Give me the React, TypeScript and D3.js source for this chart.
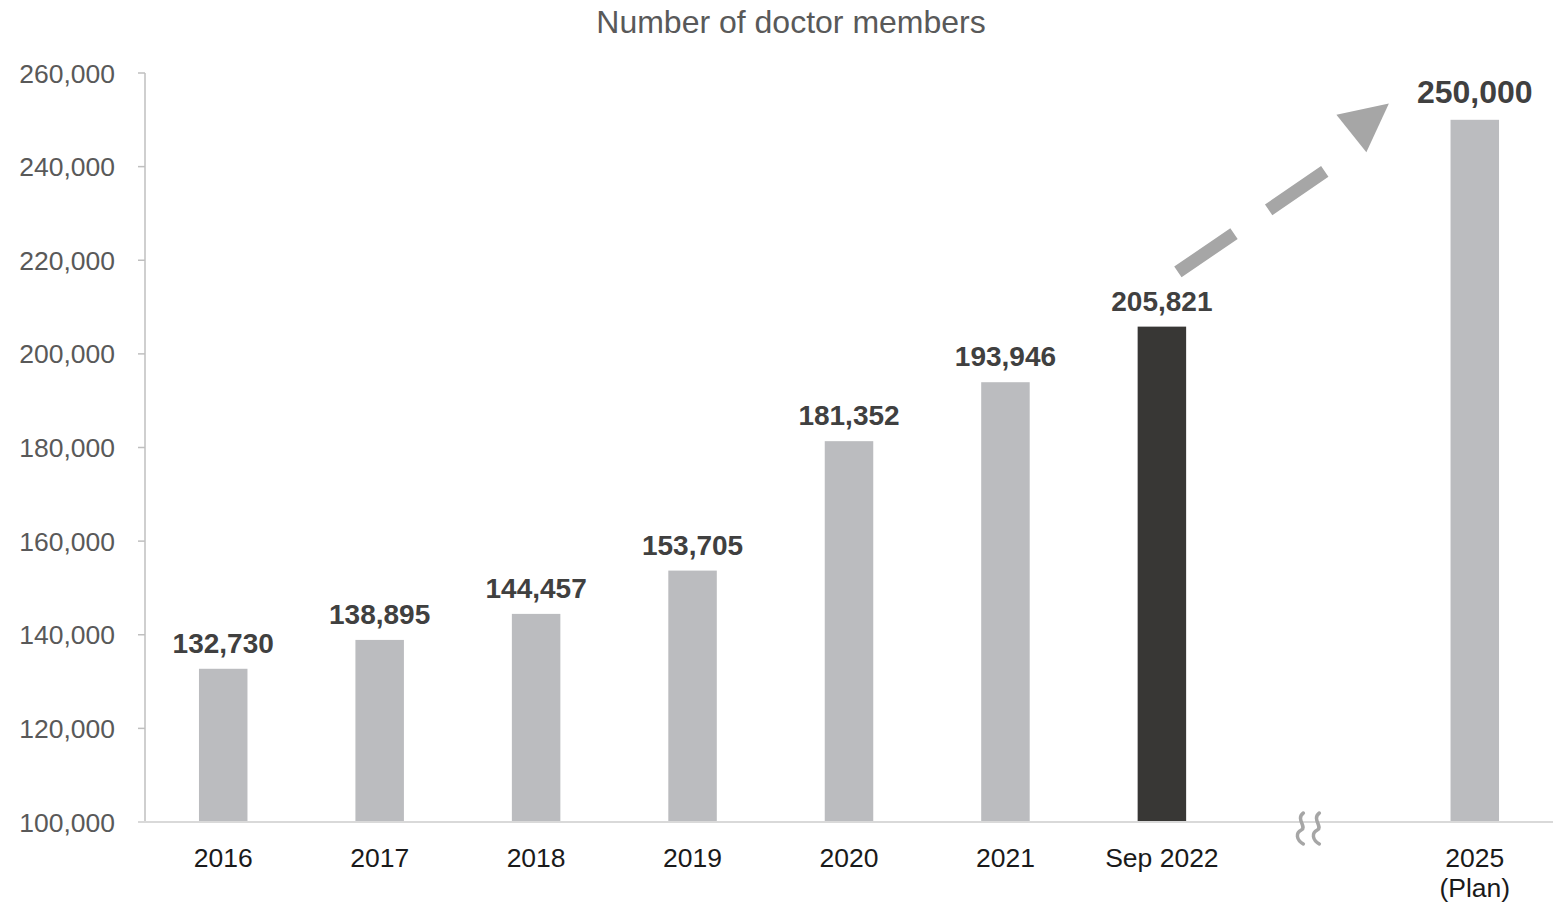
import React from "react";
import * as d3 from "d3";

const categories = ["2016", "2017", "2018", "2019", "2020", "2021", "Sep 2022", "", "2025"];
const values: (number | null)[] = [132730, 138895, 144457, 153705, 181352, 193946, 205821, null, 250000];
const highlight = ["Sep 2022"];
const yTicks = [100000, 120000, 140000, 160000, 180000, 200000, 220000, 240000, 260000];

const W = 1561;
const H = 907;
const M = { left: 145, right: 8, top: 73, bottom: 85 };

export default function App() {
  const x = d3
    .scaleBand<string>()
    .domain(categories.map((c, i) => c || `gap${i}`))
    .range([M.left, W - M.right])
    .paddingInner(0.69)
    .paddingOuter(0.345);
  const y = d3.scaleLinear().domain([100000, 260000]).range([H - M.bottom, M.top]);
  const fmt = d3.format(",");
  const key = (c: string, i: number) => c || `gap${i}`;
  const bw = x.bandwidth();
  const y0 = y(100000);

  const gapX = (x(key("", 7)) as number) + bw / 2;
  const squiggle = (cx: number) =>
    `M${cx + 2},${y0 - 9} C${cx - 6},${y0 - 3} ${cx + 6},${y0 + 5} ${cx},${y0 + 8} S${cx - 5},${y0 + 18} ${cx + 2},${y0 + 22}`;

  // arrow
  const sepX = (x("Sep 2022") as number) + bw / 2;
  const ax1 = sepX + 16, ay1 = y(217500);
  const ax2 = sepX + 163, ay2 = y(239000);
  const tip = { x: sepX + 227, y: y(253500) };
  const ang = Math.atan2(tip.y - ay1, tip.x - ax1);
  const baseC = { x: tip.x - 48 * Math.cos(ang), y: tip.y - 48 * Math.sin(ang) };
  const hw = 24;
  const tri = [
    [tip.x, tip.y],
    [baseC.x + hw * Math.sin(ang), baseC.y - hw * Math.cos(ang)],
    [baseC.x - hw * Math.sin(ang), baseC.y + hw * Math.cos(ang)],
  ];

  return (
    <svg
      width={W}
      height={H}
      style={{ position: "absolute", left: 0, top: 0, fontFamily: "'Liberation Sans', Arial, sans-serif" }}
    >
      <rect width={W} height={H} fill="#ffffff" />
      <text x={791} y={33} textAnchor="middle" fontSize={32} fill="#595959">
        Number of doctor members
      </text>
      {/* y axis */}
      <line x1={M.left} x2={M.left} y1={y(260000)} y2={y0} stroke="#bfbfbf" strokeWidth={1.5} />
      {yTicks.map((t) => (
        <g key={t}>
          <line x1={M.left - 7} x2={M.left} y1={y(t)} y2={y(t)} stroke="#bfbfbf" strokeWidth={1.5} />
          <text x={115} y={y(t) + 9.5} textAnchor="end" fontSize={26.5} fill="#595959">
            {fmt(t)}
          </text>
        </g>
      ))}
      {/* bars */}
      {categories.map((c, i) => {
        const v = values[i];
        if (v == null) return null;
        const bx = x(key(c, i)) as number;
        const big = c === "2025";
        return (
          <g key={key(c, i)}>
            <rect
              x={bx}
              y={y(v)}
              width={bw}
              height={y0 - y(v)}
              fill={highlight.includes(c) ? "#383735" : "#bbbcbf"}
            />
            <text
              x={bx + bw / 2}
              y={y(v) - (big ? 17 : 16)}
              textAnchor="middle"
              fontSize={big ? 32 : 28}
              fontWeight="bold"
              fill="#404040"
            >
              {fmt(v)}
            </text>
          </g>
        );
      })}
      {/* x axis */}
      <line x1={M.left - 7} x2={W - M.right} y1={y0} y2={y0} stroke="#d9d9d9" strokeWidth={2} />
      {categories.map((c, i) => {
        if (!c) return null;
        const cx = (x(key(c, i)) as number) + bw / 2;
        return (
          <text key={key(c, i)} x={cx} y={867} textAnchor="middle" fontSize={26.5} fill="#1a1a1a">
            {c}
            {c === "2025" ? (
              <tspan x={cx} dy={30}>
                (Plan)
              </tspan>
            ) : null}
          </text>
        );
      })}
      {/* break mark */}
      <path d={squiggle(gapX - 17)} fill="none" stroke="#a6a6a6" strokeWidth={3.5} strokeLinecap="round" />
      <path d={squiggle(gapX - 1)} fill="none" stroke="#a6a6a6" strokeWidth={3.5} strokeLinecap="round" />
      {/* arrow */}
      <line
        x1={ax1}
        y1={ay1}
        x2={ax2}
        y2={ay2}
        stroke="#a6a6a6"
        strokeWidth={13}
        strokeDasharray="68 42"
      />
      <polygon points={tri.map((p) => p.join(",")).join(" ")} fill="#a6a6a6" />
    </svg>
  );
}
